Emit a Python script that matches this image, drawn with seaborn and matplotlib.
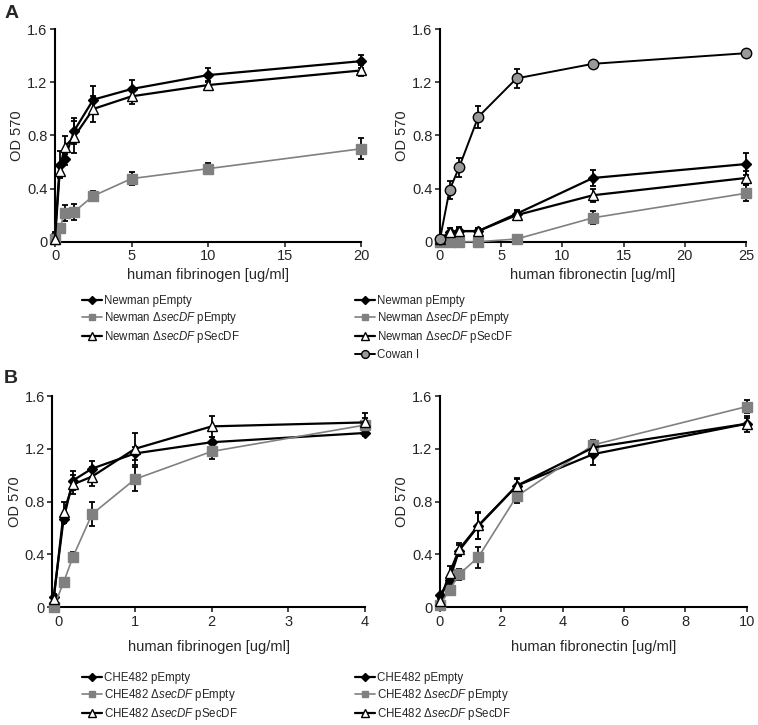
import numpy as np
import pandas as pd
import seaborn as sns
import matplotlib
matplotlib.use('Agg')
from matplotlib import pyplot as plt

# ---- data ----
# A, fibrinogen (Newman)
fbg_a_x = [0, 0.3125, 0.625, 1.25, 2.5, 5, 10, 20]
fbg_a_pempty = [0.05, 0.58, 0.62, 0.835, 1.07, 1.15, 1.255, 1.36]
fbg_a_pempty_err = [0.02, 0.1, 0.04, 0.1, 0.1, 0.07, 0.05, 0.05]
fbg_a_del = [0.02, 0.10, 0.215, 0.225, 0.345, 0.475, 0.55, 0.70]
fbg_a_del_err = [0.01, 0.02, 0.06, 0.06, 0.04, 0.05, 0.04, 0.08]
fbg_a_comp = [0.02, 0.535, 0.715, 0.79, 1.0, 1.095, 1.18, 1.29]
fbg_a_comp_err = [0.01, 0.05, 0.08, 0.12, 0.1, 0.06, 0.03, 0.04]

# A, fibronectin (Newman + Cowan I)
fn_a_x = [0, 0.78125, 1.5625, 3.125, 6.25, 12.5, 25]
fn_a_pempty = [0.02, 0.07, 0.08, 0.08, 0.21, 0.48, 0.585]
fn_a_pempty_err = [0.01, 0.01, 0.02, 0.02, 0.03, 0.06, 0.08]
fn_a_del = [0.0, 0.0, 0.0, 0.0, 0.02, 0.18, 0.365]
fn_a_del_err = [0.0, 0.0, 0.0, 0.0, 0.01, 0.05, 0.06]
fn_a_comp = [0.02, 0.07, 0.08, 0.08, 0.20, 0.35, 0.48]
fn_a_comp_err = [0.01, 0.03, 0.03, 0.02, 0.03, 0.05, 0.05]
fn_a_cowan = [0.02, 0.39, 0.56, 0.94, 1.23, 1.34, 1.42]
fn_a_cowan_err = [0.01, 0.07, 0.07, 0.08, 0.07, 0.02, 0.01]

# B, fibrinogen (CHE482)
fbg_b_x = [-0.06, 0.07, 0.19, 0.44, 1, 2, 4]
fbg_b_pempty = [0.08, 0.67, 0.96, 1.05, 1.165, 1.25, 1.32]
fbg_b_pempty_err = [0.02, 0.03, 0.07, 0.06, 0.05, 0.04, 0.02]
fbg_b_del = [0.0, 0.19, 0.38, 0.705, 0.97, 1.18, 1.38]
fbg_b_del_err = [0.01, 0.01, 0.04, 0.09, 0.09, 0.06, 0.05]
fbg_b_comp = [0.06, 0.72, 0.93, 0.99, 1.2, 1.37, 1.40]
fbg_b_comp_err = [0.01, 0.08, 0.07, 0.07, 0.12, 0.08, 0.07]

# B, fibronectin (CHE482)
fn_b_x = [0, 0.3125, 0.625, 1.25, 2.5, 5, 10]
fn_b_pempty = [0.09, 0.21, 0.43, 0.615, 0.92, 1.16, 1.39]
fn_b_pempty_err = [0.01, 0.03, 0.04, 0.1, 0.05, 0.08, 0.04]
fn_b_del = [0.02, 0.13, 0.25, 0.38, 0.84, 1.23, 1.52]
fn_b_del_err = [0.01, 0.02, 0.04, 0.08, 0.05, 0.04, 0.05]
fn_b_comp = [0.05, 0.26, 0.44, 0.62, 0.92, 1.21, 1.39]
fn_b_comp_err = [0.01, 0.05, 0.05, 0.1, 0.06, 0.04, 0.06]

DELTA = r'$\Delta\mathit{secDF}$'

styles = {
    'pempty': dict(color='black', marker='D', markerfacecolor='black', markeredgecolor='black',
                   markersize=5.5, linewidth=1.6),
    'del': dict(color='#808080', marker='s', markerfacecolor='#808080', markeredgecolor='#808080',
                markersize=6.5, linewidth=1.2),
    'comp': dict(color='black', marker='^', markerfacecolor='white', markeredgecolor='black',
                 markersize=7.5, linewidth=1.6),
    'cowan': dict(color='black', marker='o', markerfacecolor='#999999', markeredgecolor='black',
                  markersize=7.5, linewidth=1.4),
}


def draw_series(ax, x, y, err, kind, label):
    ax.errorbar(x, y, yerr=err, fmt='none', ecolor='black', elinewidth=1.3,
                capsize=2.5, capthick=1.3, zorder=1.5, clip_on=False)
    sns.lineplot(x=x, y=y, ax=ax, label=label, errorbar=None, sort=False,
                 clip_on=False, zorder=3, markeredgewidth=1.0, **styles[kind])


def style_axes(ax, xlim, xticks, xlabel):
    ax.set_xlim(*xlim)
    ax.set_ylim(0, 1.6)
    ax.set_xticks(xticks)
    ax.set_xticklabels([str(t) for t in xticks])
    ax.set_yticks([0, 0.4, 0.8, 1.2, 1.6])
    ax.set_yticklabels(['0', '0.4', '0.8', '1.2', '1.6'])
    ax.set_ylabel('OD 570', fontsize=10.5, labelpad=2)
    ax.set_xlabel(xlabel, fontsize=10.5, labelpad=3)
    ax.tick_params(labelsize=10.5, length=3.5, width=1.2, direction='out', pad=2)
    sns.despine(ax=ax)
    for s in ['left', 'bottom']:
        ax.spines[s].set_linewidth(1.5)
        ax.spines[s].set_color('black')


def place_legend(ax, fig, x0, y0):
    ax.legend(loc='upper left', bbox_to_anchor=(x0, y0), bbox_transform=fig.transFigure,
              frameon=False, fontsize=8.3, handlelength=1.75, handletextpad=0.2,
              labelspacing=0.28, markerscale=0.75, borderaxespad=0, borderpad=0)


sns.set_style('ticks')
plt.rcParams['font.family'] = ['Liberation Sans', 'DejaVu Sans']
plt.rcParams['mathtext.fontset'] = 'custom'
plt.rcParams['mathtext.rm'] = 'Liberation Sans'
plt.rcParams['mathtext.it'] = 'Liberation Sans:italic'

fig = plt.figure(figsize=(7.58, 7.25), dpi=100)
W, H = 758, 725


def axes_px(l, r, top, bottom):
    return fig.add_axes([l / W, 1 - bottom / H, (r - l) / W, (bottom - top) / H])


ax1 = axes_px(55, 361, 29.3, 241.7)
ax2 = axes_px(440, 746, 29.3, 241.7)
ax3 = axes_px(52.3, 365, 396, 607.3)
ax4 = axes_px(440, 746.7, 396, 607.3)

# panel A left
draw_series(ax1, fbg_a_x, fbg_a_pempty, fbg_a_pempty_err, 'pempty', 'Newman pEmpty')
draw_series(ax1, fbg_a_x, fbg_a_del, fbg_a_del_err, 'del', f'Newman {DELTA} pEmpty')
draw_series(ax1, fbg_a_x, fbg_a_comp, fbg_a_comp_err, 'comp', f'Newman {DELTA} pSecDF')
style_axes(ax1, (0, 20), [0, 5, 10, 15, 20], 'human fibrinogen [ug/ml]')
place_legend(ax1, fig, 82 / W, 1 - 295 / H)

# panel A right
draw_series(ax2, fn_a_x, fn_a_pempty, fn_a_pempty_err, 'pempty', 'Newman pEmpty')
draw_series(ax2, fn_a_x, fn_a_del, fn_a_del_err, 'del', f'Newman {DELTA} pEmpty')
draw_series(ax2, fn_a_x, fn_a_comp, fn_a_comp_err, 'comp', f'Newman {DELTA} pSecDF')
draw_series(ax2, fn_a_x, fn_a_cowan, fn_a_cowan_err, 'cowan', 'Cowan I')
style_axes(ax2, (0, 25), [0, 5, 10, 15, 20, 25], 'human fibronectin [ug/ml]')
place_legend(ax2, fig, 355 / W, 1 - 295 / H)

# panel B left
draw_series(ax3, fbg_b_x, fbg_b_pempty, fbg_b_pempty_err, 'pempty', 'CHE482 pEmpty')
draw_series(ax3, fbg_b_x, fbg_b_del, fbg_b_del_err, 'del', f'CHE482 {DELTA} pEmpty')
draw_series(ax3, fbg_b_x, fbg_b_comp, fbg_b_comp_err, 'comp', f'CHE482 {DELTA} pSecDF')
style_axes(ax3, (-0.078, 4), [0, 1, 2, 3, 4], 'human fibrinogen [ug/ml]')
ax3.xaxis.labelpad = 8
place_legend(ax3, fig, 82 / W, 1 - 672 / H)

# panel B right
draw_series(ax4, fn_b_x, fn_b_pempty, fn_b_pempty_err, 'pempty', 'CHE482 pEmpty')
draw_series(ax4, fn_b_x, fn_b_del, fn_b_del_err, 'del', f'CHE482 {DELTA} pEmpty')
draw_series(ax4, fn_b_x, fn_b_comp, fn_b_comp_err, 'comp', f'CHE482 {DELTA} pSecDF')
style_axes(ax4, (0, 10), [0, 2, 4, 6, 8, 10], 'human fibronectin [ug/ml]')
ax4.xaxis.labelpad = 8
place_legend(ax4, fig, 355 / W, 1 - 672 / H)

fig.text(5 / W, 1 - 5 / H, 'A', fontsize=14, fontweight='bold', va='top', ha='left')
fig.text(4 / W, 1 - 370 / H, 'B', fontsize=14, fontweight='bold', va='top', ha='left')

fig.savefig('out.png', dpi=100)
